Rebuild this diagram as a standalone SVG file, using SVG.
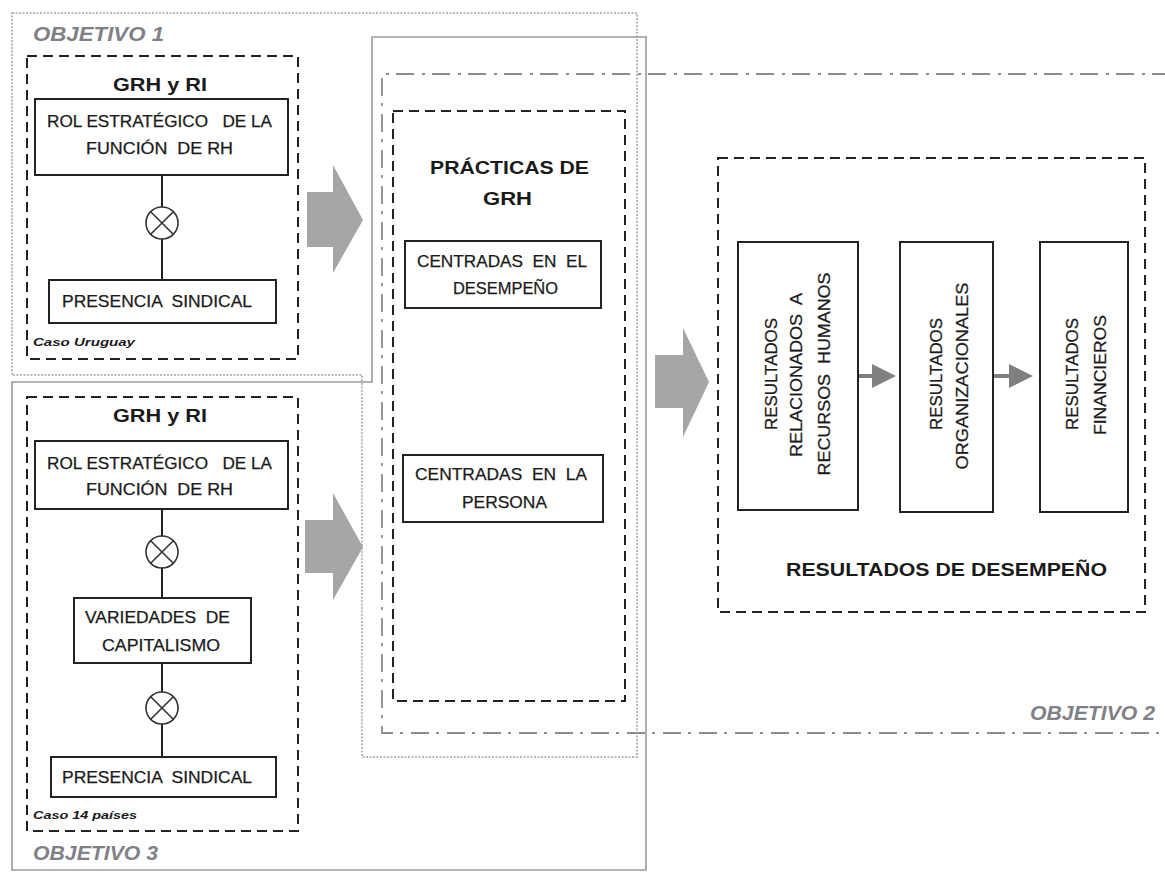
<svg xmlns="http://www.w3.org/2000/svg" width="1165" height="872" viewBox="0 0 1165 872">
<style>
.frame1{fill:none;stroke:#b8b8b8;stroke-width:2;stroke-dasharray:2 1.5}
.frame3{fill:none;stroke:#9a9a9a;stroke-width:1.6}
.frame2{fill:none;stroke:#8c8c8c;stroke-width:1.8;stroke-dasharray:18 7 3 8}
.dash{fill:none;stroke:#222;stroke-width:2;stroke-dasharray:10 6}
.box{fill:#fff;stroke:#222;stroke-width:2}
.conn{stroke:#222;stroke-width:2;fill:none}
.circ{fill:#fff;stroke:#333;stroke-width:1.6}
.xl{stroke:#333;stroke-width:1.6}
.big{fill:#a6a6a6}
.small{fill:#808080}
.sline{stroke:#808080;stroke-width:4}
text{font-family:"Liberation Sans",Arial,sans-serif;fill:#1a1a1a}
.t{font-size:16.5px;stroke:#1a1a1a;stroke-width:0.25}
.h{font-size:19px;font-weight:bold}
.obj{font-size:20px;font-weight:bold;font-style:italic;fill:#7f8187}
.caso{font-size:11px;font-weight:bold;font-style:italic}
.v{font-size:17px;text-anchor:middle;stroke:#1a1a1a;stroke-width:0.25}
</style>
<defs>
<g id="cx"><circle class="circ" cx="0" cy="0" r="16"/><line class="xl" x1="-11.3" y1="-11.3" x2="11.3" y2="11.3"/><line class="xl" x1="-11.3" y1="11.3" x2="11.3" y2="-11.3"/></g>
</defs>

<g id="frames">
<path id="objetivo1-frame" class="frame1" d="M12,13 H637 V757 H362 V375 H12 Z"/>
<path id="objetivo3-frame" class="frame3" d="M372,37 H646 V870 H12 V382 H372 Z"/>
<path id="objetivo2-frame" class="frame2" d="M1170,74 H382 V733 H1170"/>
</g>

<g id="labels">
<text class="obj" x="33" y="41" textLength="131" lengthAdjust="spacingAndGlyphs">OBJETIVO 1</text>
<text class="obj" x="33" y="860" textLength="125" lengthAdjust="spacingAndGlyphs">OBJETIVO 3</text>
<text class="obj" x="1030" y="720" textLength="125" lengthAdjust="spacingAndGlyphs">OBJETIVO 2</text>
</g>

<g id="connectors">
<line class="conn" x1="162" y1="175" x2="162" y2="207"/>
<line class="conn" x1="162" y1="239" x2="162" y2="280"/>
<line class="conn" x1="162" y1="509" x2="162" y2="536"/>
<line class="conn" x1="162" y1="568" x2="162" y2="598"/>
<line class="conn" x1="162" y1="663" x2="162" y2="692"/>
<line class="conn" x1="162" y1="724" x2="162" y2="757"/>
<path class="big" d="M307,192 H333 V165 L363,220 L333,273 V247 H307 Z"/>
<path class="big" d="M305,520 H333 V493 L363,547 L333,600 V573 H305 Z"/>
<path class="big" d="M655,355 H683 V328 L709,382 L683,437 V408 H655 Z"/>
<line class="sline" x1="858" y1="376" x2="873" y2="376"/>
<polygon class="small" points="872,364 896,376 872,388"/>
<line class="sline" x1="993" y1="376" x2="1010" y2="376"/>
<polygon class="small" points="1009,364 1033,376 1009,388"/>
</g>

<g id="grh-ri-1">
<rect class="dash" x="27" y="56" width="271" height="303"/>
<text class="h" x="113" y="91" textLength="94" lengthAdjust="spacingAndGlyphs">GRH y RI</text>
<text class="caso" x="33" y="346" textLength="102" lengthAdjust="spacingAndGlyphs">Caso Uruguay</text>
</g>
<g id="rol-1">
<rect class="box" x="35" y="99" width="253" height="76"/>
<text class="t" x="47" y="127" textLength="225" lengthAdjust="spacingAndGlyphs" xml:space="preserve">ROL ESTRATÉGICO   DE LA</text>
<text class="t" x="86" y="154" textLength="147" lengthAdjust="spacingAndGlyphs" xml:space="preserve">FUNCIÓN  DE RH</text>
</g>
<g id="x-1"><use href="#cx" x="162" y="223"/></g>
<g id="presencia-1">
<rect class="box" x="49" y="280" width="227" height="43"/>
<text class="t" x="62" y="307" textLength="190" lengthAdjust="spacingAndGlyphs" xml:space="preserve">PRESENCIA  SINDICAL</text>
</g>

<g id="grh-ri-3">
<rect class="dash" x="27" y="397" width="271" height="434"/>
<text class="h" x="113" y="422" textLength="94" lengthAdjust="spacingAndGlyphs">GRH y RI</text>
<text class="caso" x="33" y="819" textLength="104" lengthAdjust="spacingAndGlyphs">Caso 14 países</text>
</g>
<g id="rol-3">
<rect class="box" x="35" y="441" width="253" height="68"/>
<text class="t" x="47" y="469" textLength="225" lengthAdjust="spacingAndGlyphs" xml:space="preserve">ROL ESTRATÉGICO   DE LA</text>
<text class="t" x="86" y="495" textLength="147" lengthAdjust="spacingAndGlyphs" xml:space="preserve">FUNCIÓN  DE RH</text>
</g>
<g id="x-3a"><use href="#cx" x="162" y="552"/></g>
<g id="variedades">
<rect class="box" x="74" y="598" width="177" height="65"/>
<text class="t" x="85" y="623" textLength="145" lengthAdjust="spacingAndGlyphs" xml:space="preserve">VARIEDADES  DE</text>
<text class="t" x="102" y="651" textLength="118" lengthAdjust="spacingAndGlyphs">CAPITALISMO</text>
</g>
<g id="x-3b"><use href="#cx" x="162" y="708"/></g>
<g id="presencia-3">
<rect class="box" x="51" y="757" width="225" height="40"/>
<text class="t" x="62" y="783" textLength="190" lengthAdjust="spacingAndGlyphs" xml:space="preserve">PRESENCIA  SINDICAL</text>
</g>

<g id="practicas">
<rect class="dash" x="393" y="111" width="232" height="590"/>
<text class="h" x="430" y="174" textLength="159" lengthAdjust="spacingAndGlyphs">PRÁCTICAS DE</text>
<text class="h" x="483" y="205" textLength="49" lengthAdjust="spacingAndGlyphs">GRH</text>
</g>
<g id="centradas-desempeno">
<rect class="box" x="405" y="241" width="196" height="67"/>
<text class="t" x="417" y="267" textLength="170" lengthAdjust="spacingAndGlyphs" xml:space="preserve">CENTRADAS  EN  EL</text>
<text class="t" x="453" y="294" textLength="105" lengthAdjust="spacingAndGlyphs">DESEMPEÑO</text>
</g>
<g id="centradas-persona">
<rect class="box" x="403" y="455" width="200" height="67"/>
<text class="t" x="415" y="480" textLength="172" lengthAdjust="spacingAndGlyphs" xml:space="preserve">CENTRADAS  EN  LA</text>
<text class="t" x="462" y="508" textLength="85" lengthAdjust="spacingAndGlyphs">PERSONA</text>
</g>

<g id="resultados-desempeno">
<rect class="dash" x="718" y="158" width="427" height="454"/>
<text class="h" x="786" y="576" textLength="321" lengthAdjust="spacingAndGlyphs">RESULTADOS DE DESEMPEÑO</text>
</g>
<g id="res-rh">
<rect class="box" x="738" y="242" width="120" height="268"/>
<text class="v" x="777" y="374" transform="rotate(-90 777 374)" textLength="112" lengthAdjust="spacingAndGlyphs">RESULTADOS</text>
<text class="v" x="802" y="375" transform="rotate(-90 802 375)" textLength="164" lengthAdjust="spacingAndGlyphs" xml:space="preserve">RELACIONADOS  A</text>
<text class="v" x="830" y="374" transform="rotate(-90 830 374)" textLength="203" lengthAdjust="spacingAndGlyphs" xml:space="preserve">RECURSOS  HUMANOS</text>
</g>
<g id="res-org">
<rect class="box" x="900" y="242" width="93" height="270"/>
<text class="v" x="942" y="374" transform="rotate(-90 942 374)" textLength="112" lengthAdjust="spacingAndGlyphs">RESULTADOS</text>
<text class="v" x="968" y="376" transform="rotate(-90 968 376)" textLength="187" lengthAdjust="spacingAndGlyphs">ORGANIZACIONALES</text>
</g>
<g id="res-fin">
<rect class="box" x="1040" y="242" width="88" height="270"/>
<text class="v" x="1078" y="374" transform="rotate(-90 1078 374)" textLength="112" lengthAdjust="spacingAndGlyphs">RESULTADOS</text>
<text class="v" x="1106" y="375" transform="rotate(-90 1106 375)" textLength="120" lengthAdjust="spacingAndGlyphs">FINANCIEROS</text>
</g>
</svg>
